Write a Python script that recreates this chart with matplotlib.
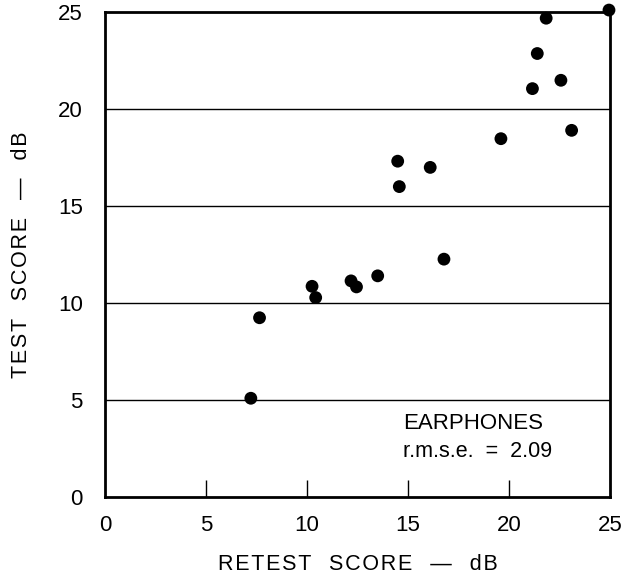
import matplotlib
matplotlib.use("Agg")
import matplotlib.pyplot as plt

retest = [7.22, 7.65, 10.25, 10.43, 12.18, 12.45, 13.5, 16.78, 14.57, 14.49,
          16.1, 19.6, 21.16, 21.4, 21.84, 22.57, 23.1, 24.95]
test = [5.09, 9.24, 10.86, 10.28, 11.14, 10.83, 11.4, 12.26, 16.0, 17.31,
        16.99, 18.47, 21.05, 22.86, 24.68, 21.48, 18.9, 25.1]
xticks = [0, 5, 10, 15, 20, 25]
yticks = [0, 5, 10, 15, 20, 25]
grid_levels = [5, 10, 15, 20]
x_words = ['RETEST', 'SCORE', '—', 'dB']
y_words = ['TEST', 'SCORE', '—', 'dB']


def tracked(words):
    # letter-spaced words (hair spaces between letters), wide gaps between words
    return '   '.join('\u200a'.join(w) for w in words)


plt.rcParams['font.family'] = ['Liberation Sans', 'DejaVu Sans']

fig = plt.figure(figsize=(6.25, 5.81), dpi=100)
ax = fig.add_axes([105/625, 1-497/581, (610-105)/625, (497-12)/581])

for g in grid_levels:
    ax.axhline(g, color='black', lw=1.0, zorder=1)

ax.scatter(retest, test, s=85, color='black', zorder=3, clip_on=False, edgecolors='none')

ax.set_xlim(0, 25)
ax.set_ylim(0, 25)
ax.set_xticks(xticks)
ax.set_yticks(yticks)
ax.set_xticklabels([str(t) for t in xticks])
ax.set_yticklabels([str(t) for t in yticks])

ax.tick_params(axis='x', direction='in', length=12, width=1.0, pad=13, labelsize=16,
               top=False)
ax.tick_params(axis='y', length=0, pad=16, labelsize=16)
xt = ax.xaxis.get_major_ticks()
xt[0].tick1line.set_visible(False)
xt[-1].tick1line.set_visible(False)

for s in ax.spines.values():
    s.set_linewidth(2.0)

ax.set_xlabel(tracked(x_words), fontsize=15.5, labelpad=13)
ax.set_ylabel(tracked(y_words), fontsize=15.5, labelpad=19)

ax.text(14.75, 3.8, 'EARPHONES', fontsize=16, ha='left', va='center')
ax.text(14.75, 2.33, 'r.m.s.e.  =  2.09', fontsize=15.5, ha='left', va='center')

fig.savefig('out.png', dpi=100)
